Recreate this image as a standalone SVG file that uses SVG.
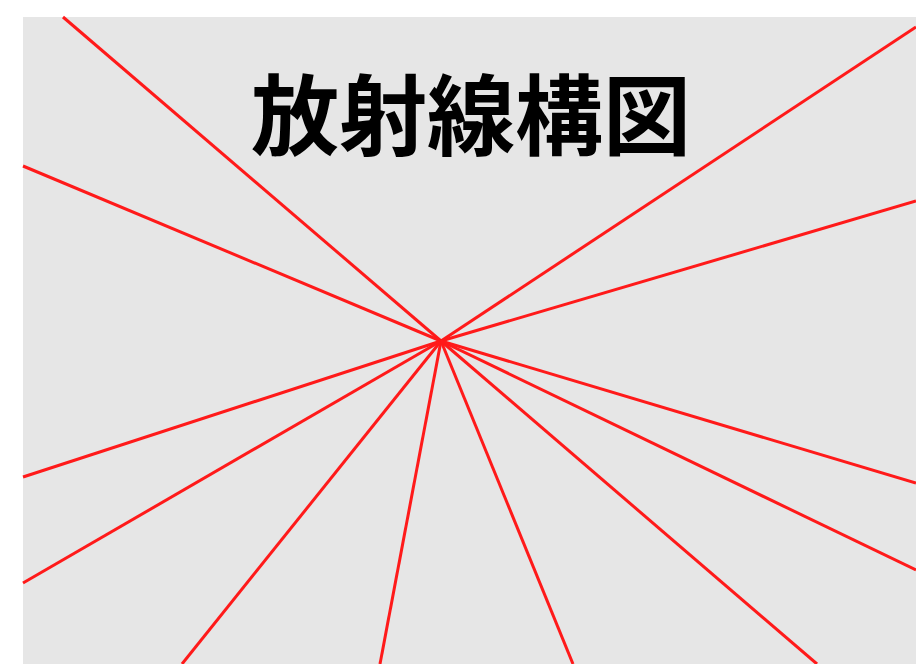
<svg xmlns="http://www.w3.org/2000/svg" width="916" height="664" viewBox="0 0 916 664">
<style>
.ray{stroke:#ff1a1a;stroke-width:3;stroke-linecap:butt;fill:none}
.title{font-family:"Noto Sans CJK JP","Noto Sans CJK SC",sans-serif;font-weight:bold;font-size:88px;fill:#000;text-anchor:middle}
</style>
<rect x="0" y="0" width="916" height="664" fill="#ffffff"/>
<rect id="panel" x="23" y="17" width="893" height="647" fill="#e6e6e6"/>
<g id="rays">
<line class="ray" x1="441" y1="341" x2="63" y2="17"/>
<line class="ray" x1="441" y1="341" x2="23" y2="166"/>
<line class="ray" x1="441" y1="341" x2="916" y2="27"/>
<line class="ray" x1="441" y1="341" x2="916" y2="201"/>
<line class="ray" x1="441" y1="341" x2="23" y2="477"/>
<line class="ray" x1="441" y1="341" x2="23" y2="583"/>
<line class="ray" x1="441" y1="341" x2="182" y2="664"/>
<line class="ray" x1="441" y1="341" x2="380" y2="664"/>
<line class="ray" x1="441" y1="341" x2="573" y2="664"/>
<line class="ray" x1="441" y1="341" x2="817" y2="664"/>
<line class="ray" x1="441" y1="341" x2="916" y2="570"/>
<line class="ray" x1="441" y1="341" x2="916" y2="483"/>
</g>
<g id="title"><text class="title" x="471" y="148">放射線構図</text></g>
</svg>
